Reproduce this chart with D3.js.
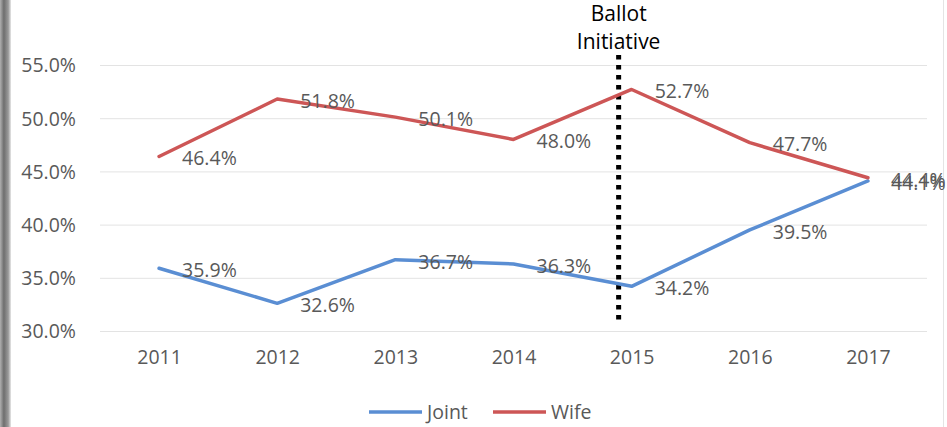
<!DOCTYPE html>
<html><head><meta charset="utf-8">
<script src="https://cdn.jsdelivr.net/npm/d3@7"></script>
<style>
html,body{margin:0;padding:0;background:#fff;}
svg{display:block;font-family:"Open Sans",sans-serif;}
</style></head>
<body>
<svg id="chart" width="947" height="427"></svg>
<script>
const years = ["2011","2012","2013","2014","2015","2016","2017"];
const joint = [35.9, 32.6, 36.7, 36.3, 34.2, 39.5, 44.1];
const wife = [46.4, 51.8, 50.1, 48.0, 52.7, 47.7, 44.4];
const yTicks = [30, 35, 40, 45, 50, 55];
const seriesNames = ["Joint", "Wife"];
const seriesColors = ["#5a8ed3", "#cd5656"];
const annotationYear = "2015";
const annotationText = ["Ballot", "Initiative"];

const FS = 19.5;
const svg = d3.select("#chart");

// left gray border
const defs = svg.append("defs");
const grad = defs.append("linearGradient").attr("id","edge").attr("x1","0").attr("x2","1");
grad.append("stop").attr("offset","0").attr("stop-color","#b0b0b0");
grad.append("stop").attr("offset","0.35").attr("stop-color","#6e6e6e");
grad.append("stop").attr("offset","0.75").attr("stop-color","#9a9a9a");
grad.append("stop").attr("offset","1").attr("stop-color","#e8e8e8");
svg.append("rect").attr("x",0).attr("y",0).attr("width",11).attr("height",427).attr("fill","url(#edge)");
svg.append("line").attr("x1",943.5).attr("x2",943.5).attr("y1",0).attr("y2",427).attr("stroke","#e4e4e4").attr("stroke-width",1);

const x = d3.scalePoint().domain(years).range([100, 927]).padding(0.5);
const y = d3.scaleLinear().domain([30, 55]).range([331, 65]);

// gridlines
svg.append("g").selectAll("line").data(yTicks).join("line")
  .attr("x1",100).attr("x2",927)
  .attr("y1",d=>y(d)+0.5).attr("y2",d=>y(d)+0.5)
  .attr("stroke","#e3e3e3").attr("stroke-width",1);

// y axis labels
const yAxis = d3.axisLeft(y).tickValues(yTicks).tickSize(0).tickPadding(0).tickFormat(d=>d3.format(".1f")(d)+"%");
const gy = svg.append("g").attr("transform","translate(76,0)").call(yAxis);
gy.select(".domain").remove();
gy.selectAll("text").attr("font-family","'Open Sans',sans-serif").attr("font-size",FS).attr("fill","#595959").attr("dy","0.35em");

// x axis labels
const xAxis = d3.axisBottom(x).tickSize(0).tickPadding(0);
const gx = svg.append("g").attr("transform","translate(0,350)").call(xAxis);
gx.select(".domain").remove();
gx.selectAll("text").attr("font-family","'Open Sans',sans-serif").attr("font-size",FS).attr("fill","#595959").attr("dy","0.71em");

// annotation dotted line
svg.append("line")
  .attr("x1",x(annotationYear)-13).attr("x2",x(annotationYear)-13)
  .attr("y1",55).attr("y2",322)
  .attr("stroke","#000").attr("stroke-width",5).attr("stroke-dasharray","4.5,5.5");
svg.append("g").selectAll("text").data(annotationText).join("text")
  .attr("x",x(annotationYear)-13).attr("y",(d,i)=>21+i*28)
  .attr("text-anchor","middle").attr("font-size",21).attr("fill","#000").text(d=>d);

// lines
const seriesData = [joint, wife];
const line = d3.line().x((d,i)=>x(years[i])).y(d=>y(d));
seriesData.forEach((vals, si) => {
  svg.append("path").datum(vals).attr("d", line)
    .attr("fill","none").attr("stroke",seriesColors[si]).attr("stroke-width",3.5)
    .attr("stroke-linejoin","round").attr("stroke-linecap","round");
});
// labels
seriesData.forEach((vals, si) => {
  svg.append("g").selectAll("text").data(vals).join("text")
    .attr("x",(d,i)=>x(years[i])+23)
    .attr("y",d=>y(d)+2)
    .attr("dy","0.35em")
    .attr("font-size",FS).attr("fill","#595959")
    .text(d=>d3.format(".1f")(d)+"%");
});

// legend
const legendX = [369, 493];
const leg = svg.append("g");
seriesNames.forEach((n, i) => {
  leg.append("line").attr("x1",legendX[i]).attr("x2",legendX[i]+53).attr("y1",412).attr("y2",412)
    .attr("stroke",seriesColors[i]).attr("stroke-width",3.5);
  leg.append("text").attr("x",legendX[i]+58).attr("y",412).attr("dy","0.35em")
    .attr("font-size",FS).attr("fill","#595959").text(n);
});
</script>
</body></html>
